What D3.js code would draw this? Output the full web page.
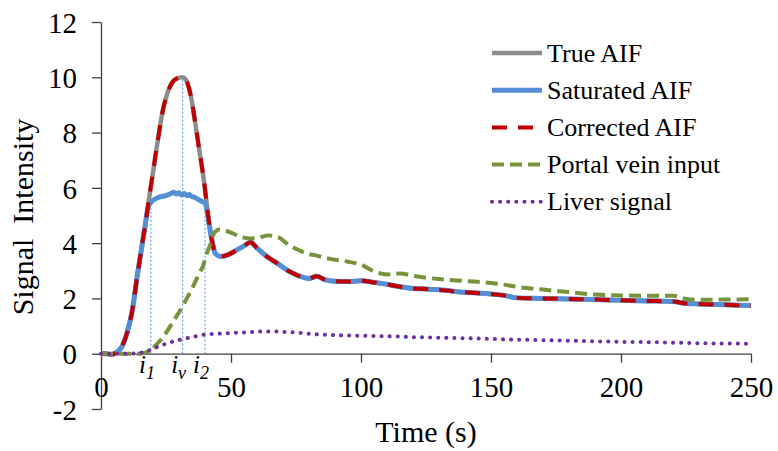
<!DOCTYPE html>
<html>
<head>
<meta charset="utf-8">
<script src="https://cdn.jsdelivr.net/npm/d3@7"></script>
<style>
  body { margin: 0; background: #fff; }
  svg { display: block; font-family: 'Liberation Serif', 'Times New Roman', serif; }
</style>
</head>
<body>
<div id="chart"></div>
<script>
'use strict';

var time = [0, 2, 4, 6, 8, 10, 12, 14, 16, 17, 18, 19, 20, 21, 22, 23, 24, 25, 26, 27, 28, 29, 30, 31, 32, 33, 34, 35, 36, 37, 38, 39, 40, 41, 42, 43, 44, 46, 48, 50, 52, 55, 57.5, 60, 64, 68, 72, 76, 80, 83, 86, 90, 95, 100, 105, 110, 115, 120, 125, 130, 140, 150, 155, 160, 170, 180, 190, 200, 210, 220, 225, 230, 240, 250];

var trueAif = [0, 0, -0.03, 0.05, 0.25, 0.75, 1.55, 2.85, 4.05, 4.65, 5.3, 5.95, 6.55, 7.2, 7.8, 8.4, 8.9, 9.25, 9.55, 9.75, 9.88, 9.95, 9.98, 10.0, 9.98, 9.85, 9.55, 9.1, 8.5, 7.88, 7.25, 6.65, 5.95, 5.15, 4.45, 3.95, 3.62, 3.52, 3.55, 3.63, 3.74, 3.9, 4.03, 3.82, 3.5, 3.26, 3.0, 2.82, 2.72, 2.8, 2.68, 2.62, 2.61, 2.64, 2.58, 2.51, 2.42, 2.36, 2.34, 2.31, 2.22, 2.16, 2.11, 2.02, 2.0, 1.98, 1.96, 1.93, 1.91, 1.89, 1.82, 1.8, 1.77, 1.74];

var saturatedAif = [0, 0, -0.03, 0.05, 0.25, 0.75, 1.55, 2.85, 4.05, 4.65, 5.25, 5.45, 5.55, 5.6, 5.65, 5.68, 5.7, 5.72, 5.76, 5.8, 5.84, 5.78, 5.82, 5.74, 5.8, 5.72, 5.76, 5.68, 5.66, 5.6, 5.55, 5.5, 5.45, 5.05, 4.45, 3.95, 3.62, 3.52, 3.55, 3.63, 3.74, 3.9, 4.03, 3.82, 3.5, 3.26, 3.0, 2.82, 2.72, 2.8, 2.68, 2.62, 2.61, 2.64, 2.58, 2.51, 2.42, 2.36, 2.34, 2.31, 2.22, 2.16, 2.11, 2.02, 2.0, 1.98, 1.96, 1.93, 1.91, 1.89, 1.82, 1.8, 1.77, 1.74];

var correctedAif = [0, 0, -0.03, 0.05, 0.25, 0.75, 1.55, 2.85, 4.05, 4.65, 5.3, 5.95, 6.55, 7.2, 7.8, 8.4, 8.9, 9.25, 9.55, 9.75, 9.88, 9.95, 9.98, 10.0, 9.98, 9.85, 9.55, 9.1, 8.5, 7.88, 7.25, 6.65, 5.95, 5.15, 4.45, 3.95, 3.62, 3.52, 3.55, 3.63, 3.74, 3.9, 4.03, 3.82, 3.5, 3.26, 3.0, 2.82, 2.72, 2.8, 2.68, 2.62, 2.61, 2.64, 2.58, 2.51, 2.42, 2.36, 2.34, 2.31, 2.22, 2.16, 2.11, 2.02, 2.0, 1.98, 1.96, 1.93, 1.91, 1.89, 1.82, 1.8, 1.77, 1.74];

var portalVein = [0, 0, 0, 0, 0, 0, 0, 0, 0.02, 0.04, 0.07, 0.12, 0.2, 0.3, 0.4, 0.5, 0.62, 0.75, 0.9, 1.05, 1.2, 1.35, 1.5, 1.65, 1.82, 2.0, 2.17, 2.35, 2.55, 2.75, 2.95, 3.12, 3.4, 3.7, 3.95, 4.25, 4.42, 4.5, 4.45, 4.38, 4.3, 4.2, 4.17, 4.18, 4.28, 4.22, 3.95, 3.75, 3.6, 3.55, 3.47, 3.4, 3.33, 3.22, 2.98, 2.87, 2.9, 2.82, 2.75, 2.7, 2.63, 2.56, 2.5, 2.42, 2.32, 2.23, 2.14, 2.11, 2.1, 2.1, 1.98, 1.95, 1.96, 1.97];

var liverSignal = [0, 0, 0, 0, 0, 0, 0.01, 0.02, 0.05, 0.08, 0.1, 0.14, 0.18, 0.22, 0.26, 0.3, 0.33, 0.36, 0.39, 0.42, 0.45, 0.48, 0.5, 0.52, 0.54, 0.56, 0.58, 0.6, 0.62, 0.64, 0.66, 0.68, 0.69, 0.7, 0.71, 0.71, 0.72, 0.73, 0.74, 0.75, 0.76, 0.77, 0.78, 0.8, 0.8, 0.8, 0.78, 0.76, 0.72, 0.7, 0.69, 0.67, 0.66, 0.65, 0.64, 0.63, 0.62, 0.6, 0.59, 0.58, 0.56, 0.54, 0.52, 0.51, 0.49, 0.47, 0.45, 0.43, 0.42, 0.4, 0.39, 0.38, 0.37, 0.36];

var seriesNames = ['True AIF', 'Saturated AIF', 'Corrected AIF', 'Portal vein input', 'Liver signal'];

var xTicks = [0, 50, 100, 150, 200, 250];
var yTicks = [-2, 0, 2, 4, 6, 8, 10, 12];

// i1, iv, i2 markers
var markerTimes = [19.2, 31.4, 40];
var markerTops = [5.45, 10.0, 5.45];
var markerSubs = ['1', 'v', '2'];

var width = 778, height = 451;
var svg = d3.select('#chart').append('svg')
  .attr('width', width)
  .attr('height', height);

var x = d3.scaleLinear().domain([0, 250]).range([101, 751]);
var y = d3.scaleLinear().domain([-2, 12]).range([409, 22]);

var axisColor = '#404040';

// y axis
var yAxis = svg.append('g')
  .attr('transform', 'translate(' + x(0) + ',0)')
  .call(d3.axisLeft(y).tickValues(yTicks).tickSize(9).tickSizeOuter(0).tickFormat(d3.format('d')));
yAxis.select('.domain').attr('stroke', axisColor).attr('stroke-width', 1.3);
yAxis.selectAll('.tick line').attr('stroke', axisColor).attr('stroke-width', 1.3);
yAxis.selectAll('.tick text')
  .attr('x', -24)
  .attr('dy', '0.35em')
  .attr('fill', '#000')
  .style('font-family', 'Liberation Serif')
  .style('font-size', '29px')
  .text(function(d) { return d < 0 ? '-' + Math.abs(d) : d; });

// x axis at y = 0
var xAxis = svg.append('g')
  .attr('transform', 'translate(0,' + y(0) + ')')
  .call(d3.axisBottom(x).tickValues(xTicks).tickSize(9).tickSizeOuter(0));
xAxis.select('.domain').attr('stroke', axisColor).attr('stroke-width', 1.3);
xAxis.selectAll('.tick line')
  .attr('stroke', axisColor)
  .attr('stroke-width', 1.3)
  .attr('y2', function(d) { return d === 0 ? 0 : 9; });
xAxis.selectAll('.tick text')
  .attr('y', 43)
  .attr('dy', 0)
  .attr('fill', '#000')
  .style('font-family', 'Liberation Serif')
  .style('font-size', '29px');

// axis titles
svg.append('text')
  .attr('x', x(125))
  .attr('y', 442)
  .attr('text-anchor', 'middle')
  .style('font-size', '30px')
  .text('Time (s)');

svg.append('text')
  .attr('transform', 'translate(33,217) rotate(-90)')
  .attr('text-anchor', 'middle')
  .style('font-size', '30px')
  .style('white-space', 'pre')
  .text('Signal  Intensity');

// series
var styles = [
  { color: '#8c8c8c', width: 4.5, dash: null, cap: 'butt' },
  { color: '#558ed5', width: 5, dash: null, cap: 'butt' },
  { color: '#c00000', width: 4, dash: '15,11', cap: 'butt' },
  { color: '#77933c', width: 4, dash: '12,6', cap: 'butt' },
  { color: '#7030a0', width: 4, dash: '0.1,8', cap: 'round' }
];
var seriesValues = [trueAif, saturatedAif, correctedAif, portalVein, liverSignal];

var line = d3.line()
  .x(function(d) { return x(d[0]); })
  .y(function(d) { return y(d[1]); })
  .curve(d3.curveMonotoneX);

seriesValues.forEach(function(vals, i) {
  var pts = time.map(function(t, j) { return [t, vals[j]]; });
  var s = styles[i];
  svg.append('path')
    .datum(pts)
    .attr('d', line)
    .attr('fill', 'none')
    .attr('stroke', s.color)
    .attr('stroke-width', s.width)
    .attr('stroke-linecap', s.cap)
    .attr('stroke-linejoin', 'round')
    .attr('stroke-dasharray', s.dash);
});

// marker lines and labels
svg.selectAll('.marker')
  .data(markerTimes)
  .enter()
  .append('line')
  .attr('class', 'marker')
  .attr('x1', function(d) { return x(d); })
  .attr('x2', function(d) { return x(d); })
  .attr('y1', y(0))
  .attr('y2', function(d, i) { return y(markerTops[i]); })
  .attr('stroke', '#4f8fd8')
  .attr('stroke-width', 1)
  .attr('stroke-dasharray', '2,2');

var lbl = svg.selectAll('.mlabel')
  .data(markerTimes)
  .enter()
  .append('text')
  .attr('class', 'mlabel')
  .attr('x', function(d) { return x(d) - 4; })
  .attr('y', 373)
  .attr('text-anchor', 'middle')
  .style('font-style', 'italic')
  .style('font-size', '25px');
lbl.append('tspan').text('i');
lbl.append('tspan')
  .attr('dy', 6)
  .style('font-size', '18px')
  .text(function(d, i) { return markerSubs[i]; });

// legend
var legend = svg.append('g');
seriesNames.forEach(function(name, i) {
  var ly = 53 + i * 37.2;
  var s = styles[i];
  legend.append('line')
    .attr('x1', 492).attr('x2', 542)
    .attr('y1', ly).attr('y2', ly)
    .attr('stroke', s.color)
    .attr('stroke-width', s.width)
    .attr('stroke-linecap', s.cap)
    .attr('stroke-dasharray', s.dash);
  legend.append('text')
    .attr('x', 547)
    .attr('y', ly)
    .attr('dy', '0.33em')
    .style('font-size', '26px')
    .text(name);
});
</script>
</body>
</html>
